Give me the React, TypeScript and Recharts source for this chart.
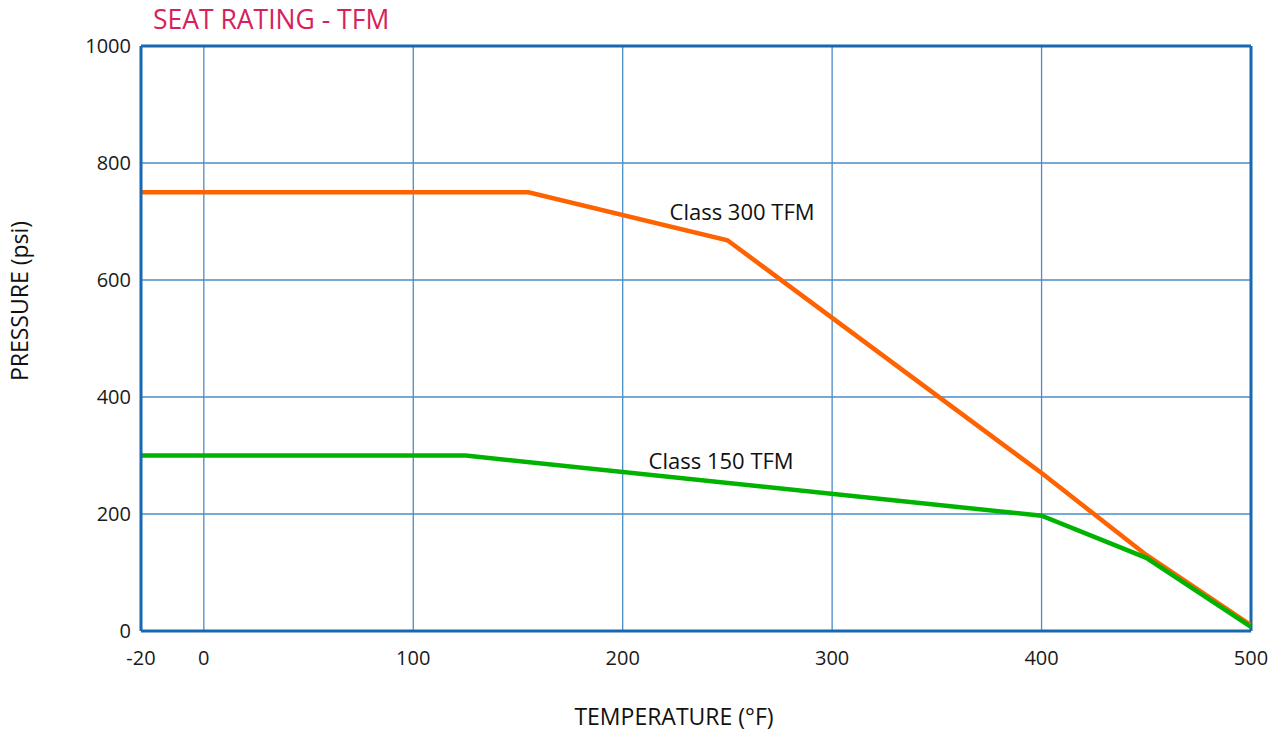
import { LineChart, Line, XAxis, YAxis, CartesianGrid, ReferenceLine, ReferenceDot } from "recharts";

// temperatures in °F, pressure in psi
const temps300 = [-20, 155, 250, 400, 450, 500];
const press300 = [750, 750, 668, 270, 130, 10];
const temps150 = [-20, 125, 400, 450, 500];
const press150 = [300, 300, 197, 125, 7];

const tempTicks = [-20, 0, 100, 200, 300, 400, 500];
const pressTicks = [0, 200, 400, 600, 800, 1000];

// the printed axis stretches the -20..0 span, so below zero the axis runs 1.5x
const toAxis = (t: number) => (t < 0 ? t * 1.5 : t);
const fromAxis = (v: number) => (v < 0 ? v / 1.5 : v);

const FONT = "'Open Sans', 'Noto Sans', sans-serif";
const BORDER = "#1767b1";
const GRID = "#4a8cc8";

const line300 = temps300.map((t, i) => ({ x: toAxis(t), y: press300[i] }));
const line150 = temps150.map((t, i) => ({ x: toAxis(t), y: press150[i] }));

export default function App() {
  return (
    <div style={{ position: "absolute", left: 0, top: 0, background: "#fff" }}>
      <LineChart
        width={1277}
        height={732}
        margin={{ top: 46, right: 26, bottom: 71, left: 0 }}
        style={{ fontFamily: FONT }}
      >
        <CartesianGrid stroke={GRID} strokeWidth={1.3} />
        <XAxis
          type="number"
          dataKey="x"
          domain={[toAxis(-20), 500]}
          ticks={tempTicks.map(toAxis)}
          tickFormatter={(v: number) => String(Math.round(fromAxis(v)))}
          allowDataOverflow
          height={30}
          tickSize={0}
          tickMargin={20}
          axisLine={{ stroke: BORDER, strokeWidth: 3 }}
          tick={{ fill: "#1a1a1a", fontSize: 20 }}
        />
        <YAxis
          type="number"
          dataKey="y"
          domain={[0, 1000]}
          ticks={pressTicks}
          width={141}
          tickSize={0}
          tickMargin={10}
          axisLine={{ stroke: BORDER, strokeWidth: 3 }}
          tick={{ fill: "#1a1a1a", fontSize: 20 }}
        />
        <ReferenceLine y={1000} stroke={BORDER} strokeWidth={3} />
        <ReferenceLine x={500} stroke={BORDER} strokeWidth={3} />
        <Line
          data={line300}
          dataKey="y"
          type="linear"
          stroke="#ff6200"
          strokeWidth={4.5}
          dot={false}
          isAnimationActive={false}
        />
        <Line
          data={line150}
          dataKey="y"
          type="linear"
          stroke="#00b300"
          strokeWidth={4.5}
          dot={false}
          isAnimationActive={false}
        />
        <ReferenceDot
          x={257}
          y={716}
          r={0}
          fill="none"
          stroke="none"
          label={{ value: "Class 300 TFM", position: "center", fill: "#111", fontSize: 22 }}
        />
        <ReferenceDot
          x={247}
          y={291}
          r={0}
          fill="none"
          stroke="none"
          label={{ value: "Class 150 TFM", position: "center", fill: "#111", fontSize: 22 }}
        />
        <text x={153} y={29} fill="#d7215b" fontSize={26.5} fontFamily={FONT}>
          SEAT RATING - TFM
        </text>
        <text
          x={19}
          y={301}
          fill="#111"
          fontSize={23}
          fontFamily={FONT}
          textAnchor="middle"
          dominantBaseline="central"
          transform="rotate(-90 19 301)"
        >
          PRESSURE (psi)
        </text>
        <text
          x={674}
          y={716}
          fill="#111"
          fontSize={23}
          fontFamily={FONT}
          textAnchor="middle"
          dominantBaseline="central"
        >
          TEMPERATURE (°F)
        </text>
      </LineChart>
    </div>
  );
}
